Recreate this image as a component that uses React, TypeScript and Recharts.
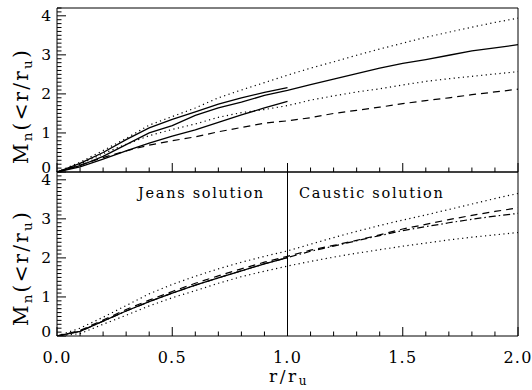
import { LineChart, Line, XAxis, YAxis, ReferenceLine } from 'recharts'

// radius grid r/r_u (read every 0.1 off the picture)
const R = [0, 0.1, 0.2, 0.3, 0.4, 0.5, 0.6, 0.7, 0.8, 0.9, 1.0, 1.1, 1.2, 1.3, 1.4, 1.5, 1.6, 1.7, 1.8, 1.9, 2.0]
const RJ = R.slice(0, 11) // jeans curves stop at r = r_u

// upper panel
const topJeansA = [0, 0.22, 0.5, 0.83, 1.13, 1.35, 1.54, 1.74, 1.9, 2.04, 2.16]
const topJeansB = [0, 0.13, 0.33, 0.54, 0.74, 0.92, 1.08, 1.27, 1.46, 1.64, 1.81]
const topCaustic = [0, 0.16, 0.4, 0.7, 1.0, 1.19, 1.45, 1.64, 1.79, 1.96, 2.09, 2.24, 2.38, 2.52, 2.66, 2.78, 2.88, 2.99, 3.1, 3.18, 3.26]
const topUpperDot = [0, 0.25, 0.55, 0.86, 1.2, 1.42, 1.64, 1.9, 2.1, 2.29, 2.48, 2.66, 2.82, 2.99, 3.15, 3.3, 3.45, 3.58, 3.71, 3.83, 3.94]
const topLowerDot = [0, 0.2, 0.47, 0.71, 0.93, 1.09, 1.23, 1.4, 1.52, 1.6, 1.7, 1.84, 1.95, 2.05, 2.13, 2.23, 2.32, 2.39, 2.45, 2.51, 2.57]
const topDashed = [0, 0.18, 0.37, 0.54, 0.69, 0.8, 0.9, 1.03, 1.14, 1.25, 1.31, 1.39, 1.5, 1.58, 1.66, 1.75, 1.83, 1.9, 1.98, 2.05, 2.12]

// lower panel
const botJeans = [0, 0.12, 0.38, 0.64, 0.88, 1.1, 1.3, 1.49, 1.67, 1.85, 2.01]
const botLongDash = [0, 0.14, 0.41, 0.68, 0.92, 1.14, 1.35, 1.54, 1.72, 1.89, 2.04, 2.2, 2.32, 2.45, 2.59, 2.74, 2.86, 2.98, 3.09, 3.19, 3.28]
const botDashDot = [0, 0.12, 0.38, 0.64, 0.88, 1.1, 1.3, 1.49, 1.67, 1.85, 2.01, 2.17, 2.3, 2.44, 2.57, 2.7, 2.8, 2.9, 2.99, 3.07, 3.14]
const botUpperDot = [0, 0.2, 0.48, 0.78, 1.08, 1.32, 1.53, 1.72, 1.89, 2.04, 2.18, 2.35, 2.52, 2.68, 2.83, 2.97, 3.1, 3.24, 3.38, 3.52, 3.65]
const botLowerDot = [0, 0.06, 0.3, 0.53, 0.77, 0.98, 1.16, 1.35, 1.52, 1.66, 1.79, 1.91, 2.02, 2.12, 2.21, 2.3, 2.38, 2.46, 2.53, 2.59, 2.65]

const xLabels = ['0.0', '0.5', '1.0', '1.5', '2.0']
const yLabels = ['0', '1', '2', '3', '4']
const xTicks = Array.from({ length: 21 }, (_, i) => i / 10)
const yTicks = Array.from({ length: 43 }, (_, i) => i / 10)

const FONT = '"DejaVu Serif", serif'
const W = 532
const H = 390

const rows = (xs: number[], ys: number[]) => xs.map((x, i) => ({ x, y: ys[i] }))

const near = (v: number, step: number) => Math.abs(v / step - Math.round(v / step)) < 1e-6

// tick mark drawn inward, optional label
const XTick = (props: any) => {
  const { x, y, payload, dir, showLabel } = props
  const major = near(payload.value, 0.5)
  return (
    <g>
      <line x1={x} x2={x} y1={y} y2={y + dir * (major ? 9 : 4.5)} stroke="#000" strokeWidth={1} />
      {showLabel && major && (
        <text x={x} y={y + 27} textAnchor="middle" fontFamily={FONT} fontSize={16} letterSpacing={1.2} fill="#000">
          {xLabels[Math.round(payload.value * 2)]}
        </text>
      )}
    </g>
  )
}

const YTick = (props: any) => {
  const { x, y, payload, dir, showLabel } = props
  const major = near(payload.value, 1)
  const v = Math.round(payload.value)
  return (
    <g>
      <line x1={x} x2={x + dir * (major ? 9 : 4.5)} y1={y} y2={y} stroke="#000" strokeWidth={1} />
      {showLabel && major && (
        <text x={x - 6} y={y + (v === 0 ? 1 : 5)} textAnchor="end" fontFamily={FONT} fontSize={15.5} fill="#000">
          {yLabels[v]}
        </text>
      )}
    </g>
  )
}

// axes are 1px thick (recharts skips 0-sized axes), so margins are 1px smaller
const Panel = ({ top, bottom, children, labels }: any) => (
  <div style={{ position: 'absolute', left: 0, top: 0 }}>
    <LineChart width={W} height={H} margin={{ top: top - 1, bottom: H - bottom - 1, left: 56, right: 13 }}>
      <XAxis
        dataKey="x" type="number" domain={[0, 2]} ticks={xTicks} interval={0}
        height={1} tickSize={0} tickMargin={0}
        axisLine={{ stroke: '#000', strokeWidth: 1 }} tickLine={false}
        tick={(p: any) => <XTick {...p} dir={-1} showLabel={labels} />}
      />
      <XAxis
        xAxisId="t" orientation="top" dataKey="x" type="number" domain={[0, 2]} ticks={xTicks} interval={0}
        height={1} tickSize={0} tickMargin={0}
        axisLine={{ stroke: '#000', strokeWidth: 1 }} tickLine={false}
        tick={(p: any) => <XTick {...p} dir={1} />}
      />
      <YAxis
        type="number" domain={[0, 4.2]} ticks={yTicks} interval={0} allowDataOverflow
        width={1} tickSize={0} tickMargin={0}
        axisLine={{ stroke: '#000', strokeWidth: 1 }} tickLine={false}
        tick={(p: any) => <YTick {...p} dir={1} showLabel />}
      />
      <YAxis
        yAxisId="r" orientation="right" type="number" domain={[0, 4.2]} ticks={yTicks} interval={0}
        width={1} tickSize={0} tickMargin={0}
        axisLine={{ stroke: '#000', strokeWidth: 1 }} tickLine={false}
        tick={(p: any) => <YTick {...p} dir={-1} />}
      />
      {children}
    </LineChart>
  </div>
)

const solid = { stroke: '#000', strokeWidth: 1.3, dot: false, type: 'linear' as const, isAnimationActive: false }
const dotted = { ...solid, strokeWidth: 1.2, strokeDasharray: '1.2 3.4' }
const dashed = { ...solid, strokeWidth: 1.2, strokeDasharray: '7 5' }
const dashDot = { ...solid, strokeWidth: 1.2, strokeDasharray: '7 3 1.5 3' }

export default function App() {
  return (
    <div style={{ position: 'absolute', left: 0, top: 0, width: W, height: H, background: '#fff' }}>
      <Panel top={8} bottom={172}>
        <Line data={rows(R, topUpperDot)} dataKey="y" {...dotted} />
        <Line data={rows(R, topLowerDot)} dataKey="y" {...dotted} />
        <Line data={rows(R, topDashed)} dataKey="y" {...dashed} />
        <Line data={rows(R, topCaustic)} dataKey="y" {...solid} />
        <Line data={rows(RJ, topJeansA)} dataKey="y" {...solid} />
        <Line data={rows(RJ, topJeansB)} dataKey="y" {...solid} />
      </Panel>
      <Panel top={172} bottom={336} labels>
        <ReferenceLine x={1} stroke="#000" strokeWidth={1} />
        <Line data={rows(R, botUpperDot)} dataKey="y" {...dotted} />
        <Line data={rows(R, botLowerDot)} dataKey="y" {...dotted} />
        <Line data={rows(R, botDashDot)} dataKey="y" {...dashDot} />
        <Line data={rows(R, botLongDash)} dataKey="y" {...dashed} />
        <Line data={rows(RJ, botJeans)} dataKey="y" {...solid} />
      </Panel>
      <svg width={W} height={H} style={{ position: 'absolute', left: 0, top: 0, pointerEvents: 'none' }}>
        <g fontFamily={FONT} fill="#000">
          <text x={138} y={198} fontSize={14.5} letterSpacing={1.7}>Jeans solution</text>
          <text x={299} y={198} fontSize={14.5} letterSpacing={1.7}>Caustic solution</text>
          <text x={269} y={382} fontSize={17} letterSpacing={2.6}>
            r/r<tspan fontSize={12} dy={3}>u</tspan>
          </text>
          {[106, 268].map((cy) => (
            <text key={cy} transform={`translate(28,${cy}) rotate(-90)`} textAnchor="middle" fontSize={20} letterSpacing={2.2}>
              M<tspan fontSize={13.5} dy={4}>n</tspan>
              <tspan dy={-4}>(&lt;r/r</tspan>
              <tspan fontSize={13.5} dy={4}>u</tspan>
              <tspan dy={-4}>)</tspan>
            </text>
          ))}
        </g>
      </svg>
    </div>
  )
}
